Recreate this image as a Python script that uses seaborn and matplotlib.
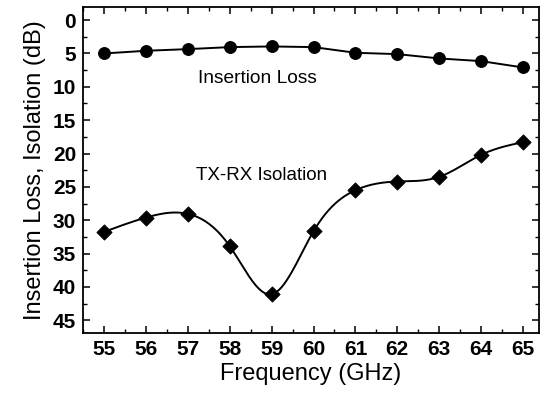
import numpy as np
import pandas as pd
import seaborn as sns
import matplotlib
matplotlib.use('Agg')
import matplotlib.pyplot as plt
from matplotlib.ticker import MultipleLocator

# values
freq = [55, 56, 57, 58, 59, 60, 61, 62, 63, 64, 65]
insertion_loss = [5.0, 4.6, 4.35, 4.05, 3.95, 4.05, 4.9, 5.1, 5.75, 6.15, 7.1]
isolation = [31.75, 29.6, 29.05, 33.9, 41.1, 31.65, 25.5, 24.2, 23.5, 20.2, 18.3]


def natural_spline(x, y, n=400):
    # natural cubic spline, used only to draw the smooth isolation curve
    x = np.asarray(x, float)
    y = np.asarray(y, float)
    h = np.diff(x)
    k = len(x)
    A = np.zeros((k, k))
    r = np.zeros(k)
    A[0, 0] = A[-1, -1] = 1
    for i in range(1, k - 1):
        A[i, i - 1] = h[i - 1]
        A[i, i] = 2 * (h[i - 1] + h[i])
        A[i, i + 1] = h[i]
        r[i] = 6 * ((y[i + 1] - y[i]) / h[i] - (y[i] - y[i - 1]) / h[i - 1])
    m = np.linalg.solve(A, r)
    xs = np.linspace(x[0], x[-1], n)
    idx = np.clip(np.searchsorted(x, xs) - 1, 0, k - 2)
    t0 = x[idx + 1] - xs
    t1 = xs - x[idx]
    hi = h[idx]
    ys = (m[idx] * t0 ** 3 / (6 * hi) + m[idx + 1] * t1 ** 3 / (6 * hi)
          + (y[idx] / hi - m[idx] * hi / 6) * t0
          + (y[idx + 1] / hi - m[idx + 1] * hi / 6) * t1)
    return xs, ys


sns.set_theme(style='ticks')
plt.rcParams['font.family'] = ['Liberation Sans', 'DejaVu Sans']
plt.rcParams.update({'text.color': 'black', 'axes.labelcolor': 'black',
                     'xtick.color': 'black', 'ytick.color': 'black'})

fig = plt.figure(figsize=(5.4, 3.94), dpi=100)
ax = fig.add_axes([0.154, 0.155, 0.844, 0.827])

# insertion loss: straight segments with round markers
sns.lineplot(x=freq, y=insertion_loss, ax=ax, color='black', linewidth=1.4,
             marker='o', markersize=8.5, markeredgecolor='black', markerfacecolor='black')

# isolation: smooth curve with diamond markers
xs, ys = natural_spline(freq, isolation)
sns.lineplot(x=xs, y=ys, ax=ax, color='black', linewidth=1.4, sort=False)
sns.scatterplot(x=freq, y=isolation, ax=ax, color='black', marker='D', s=60,
                edgecolor='black', zorder=3)

ax.text(58.65, 8.7, 'Insertion Loss', fontsize=13.8, ha='center', va='center')
ax.text(58.77, 23.25, 'TX-RX Isolation', fontsize=13.5, ha='center', va='center')

ax.set_xlim(54.5, 65.38)
ax.set_ylim(46.9, -1.95)
ax.xaxis.set_major_locator(MultipleLocator(1))
ax.xaxis.set_minor_locator(MultipleLocator(0.5))
ax.yaxis.set_major_locator(MultipleLocator(5))
ax.yaxis.set_minor_locator(MultipleLocator(2.5))
ax.tick_params(which='both', direction='in', top=True, right=True, color='black')
ax.tick_params(which='major', length=5, width=1.1, labelsize=15, pad=5,
               labelcolor='black')
ax.tick_params(which='minor', length=3, width=1.0)
for lab in ax.get_xticklabels() + ax.get_yticklabels():
    lab.set_fontweight('bold')

for s in ax.spines.values():
    s.set_visible(True)
    s.set_color('black')
    s.set_linewidth(1.3)

ax.set_xlabel('Frequency (GHz)', fontsize=17, labelpad=3)
ax.set_ylabel('Insertion Loss, Isolation (dB)', fontsize=17, labelpad=5)

fig.savefig('out.png', dpi=100)
